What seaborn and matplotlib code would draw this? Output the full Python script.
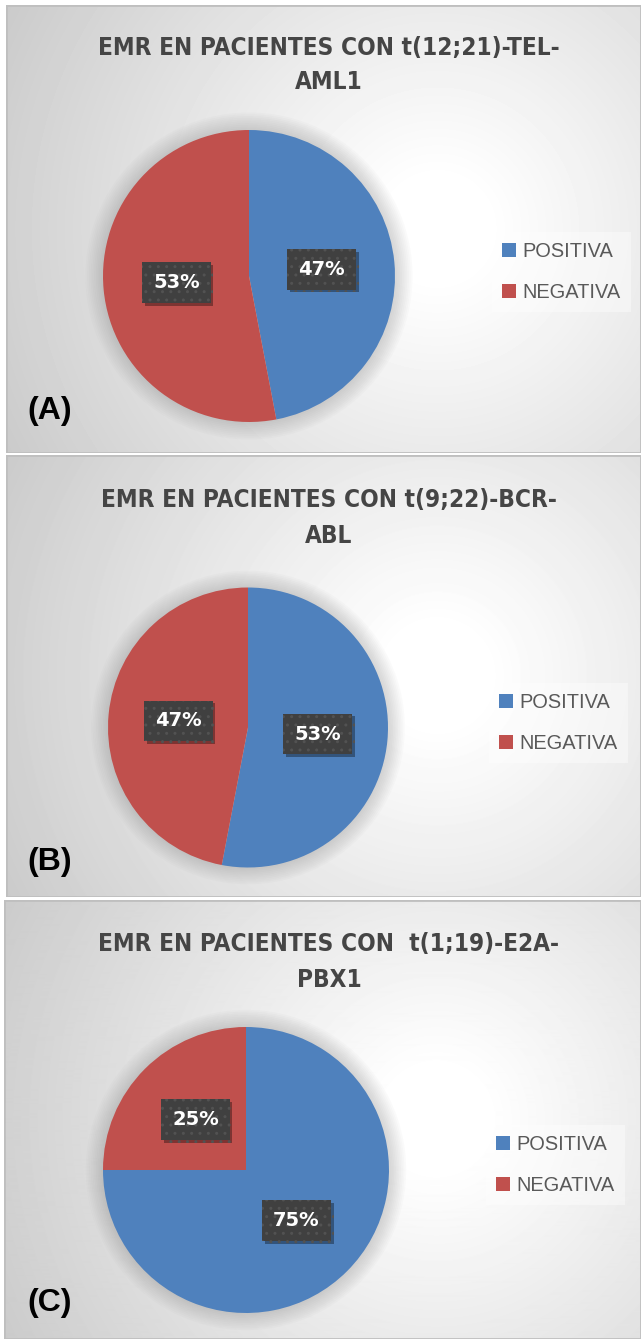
import matplotlib
matplotlib.use("Agg")
import matplotlib.patheffects as pe
import matplotlib.pyplot as plt
import numpy as np
import seaborn as sns
from matplotlib.patches import Circle, Rectangle

categories = ["POSITIVA", "NEGATIVA"]
titles = [
    "EMR EN PACIENTES CON t(12;21)-TEL-\nAML1",
    "EMR EN PACIENTES CON t(9;22)-BCR-\nABL",
    "EMR EN PACIENTES CON  t(1;19)-E2A-\nPBX1",
]
panel_tags = ["(A)", "(B)", "(C)"]
pct_tel_aml1 = [47, 53]
pct_bcr_abl = [53, 47]
pct_e2a_pbx1 = [75, 25]

W, H, DPI = 641, 1339, 100

sns.set_theme(style="white")
plt.rcParams["font.family"] = ["Liberation Sans", "DejaVu Sans"]
plt.rcParams["hatch.linewidth"] = 1.0
slice_colors = ["#4F81BD", "#C0504D"]
TEXT_GREY = "#595959"
TITLE_GREY = "#454545"

fig = plt.figure(figsize=(W / DPI, H / DPI), dpi=DPI)
fig.patch.set_facecolor("white")


def fx(px):
    return px / W


def fy(py):
    return 1 - py / H


def add_axes_px(x0, y0, x1, y1, **kw):
    ax = fig.add_axes([x0 / W, 1 - y1 / H, (x1 - x0) / W, (y1 - y0) / H], **kw)
    ax.set_axis_off()
    return ax


def draw_background(x0, y0, x1, y1):
    ax = add_axes_px(x0, y0, x1, y1)
    w, h = int(x1 - x0), int(y1 - y0)
    xx, yy = np.meshgrid(np.linspace(0, 1, w), np.linspace(0, 1, h))
    d = np.hypot(xx - 0.68, (yy - 0.5) * h / w)
    shade = 1 - 0.30 * np.clip(d - 0.08, 0, None)
    ax.imshow(shade, cmap="gray", vmin=0, vmax=1, aspect="auto",
              extent=(0, 1, 0, 1), interpolation="bilinear")
    ax.add_patch(Rectangle((0, 0), 1, 1, fill=False, ec="#bfbfbf", lw=2,
                           transform=ax.transAxes))
    ax.set_xlim(0, 1)
    ax.set_ylim(0, 1)


def draw_pie(values, cx, cy, r, title, baselines, tag, tag_y, legend_xy):
    pad = 22
    ax = add_axes_px(cx - r - pad, cy - r - pad, cx + r + pad, cy + r + pad)
    # soft shadow round the pie
    for i in range(10):
        ax.add_patch(Circle((0, 0), 1 + 0.012 * (i + 1), fc="#7f7f7f",
                            ec="none", alpha=0.03, zorder=0))
    wedges, _, autotexts = ax.pie(
        values, colors=slice_colors, startangle=90, counterclock=False,
        autopct="%1.0f%%", pctdistance=0.5, radius=1,
        wedgeprops=dict(linewidth=0),
        textprops=dict(color="white", fontsize=14, fontweight="bold",
                       family="DejaVu Sans"),
    )
    lim = (r + pad) / r
    ax.set_xlim(-lim, lim)
    ax.set_ylim(-lim, lim)
    for t in autotexts:
        t.set_bbox(dict(boxstyle="square,pad=0.56", fc="#404040", ec="#525252",
                        lw=0, hatch=".."))
        t.get_bbox_patch().set_path_effects([
            pe.SimplePatchShadow(offset=(2, -2), shadow_rgbFace="black", alpha=0.35),
            pe.Normal(),
        ])

    for line, base in zip(title.split("\n"), baselines):
        fig.text(fx(329), fy(base), line, ha="center", va="baseline",
                 fontsize=17.5, fontweight="bold", fontstretch="condensed",
                 family="DejaVu Sans", color=TITLE_GREY)
    fig.text(fx(27), fy(tag_y), tag, ha="left", va="center",
             fontsize=23, fontweight="bold", color="black")

    fig.legend(
        wedges, categories, loc="upper left",
        bbox_to_anchor=(fx(legend_xy[0]), fy(legend_xy[1])), borderaxespad=0,
        fontsize=14.4, labelcolor=TEXT_GREY, frameon=True, fancybox=False,
        facecolor="white", edgecolor="none", framealpha=0.4,
        handlelength=0.7, handleheight=0.7, handletextpad=0.33,
        labelspacing=1.12, borderpad=0.5,
    )


draw_background(6, 5, 641, 453)
draw_background(6, 455, 641, 897)
draw_background(4, 900, 641, 1339)

draw_pie(pct_tel_aml1, 249, 276, 146, titles[0], (55, 89.3), panel_tags[0], 411, (492, 232))
draw_pie(pct_bcr_abl, 248, 727.5, 140, titles[1], (506.7, 543.3), panel_tags[1], 862, (489, 683))
draw_pie(pct_e2a_pbx1, 246, 1170, 143, titles[2], (951, 987.3), panel_tags[2], 1303, (486, 1125))

fig.savefig("out.png", dpi=DPI, facecolor=fig.get_facecolor())
